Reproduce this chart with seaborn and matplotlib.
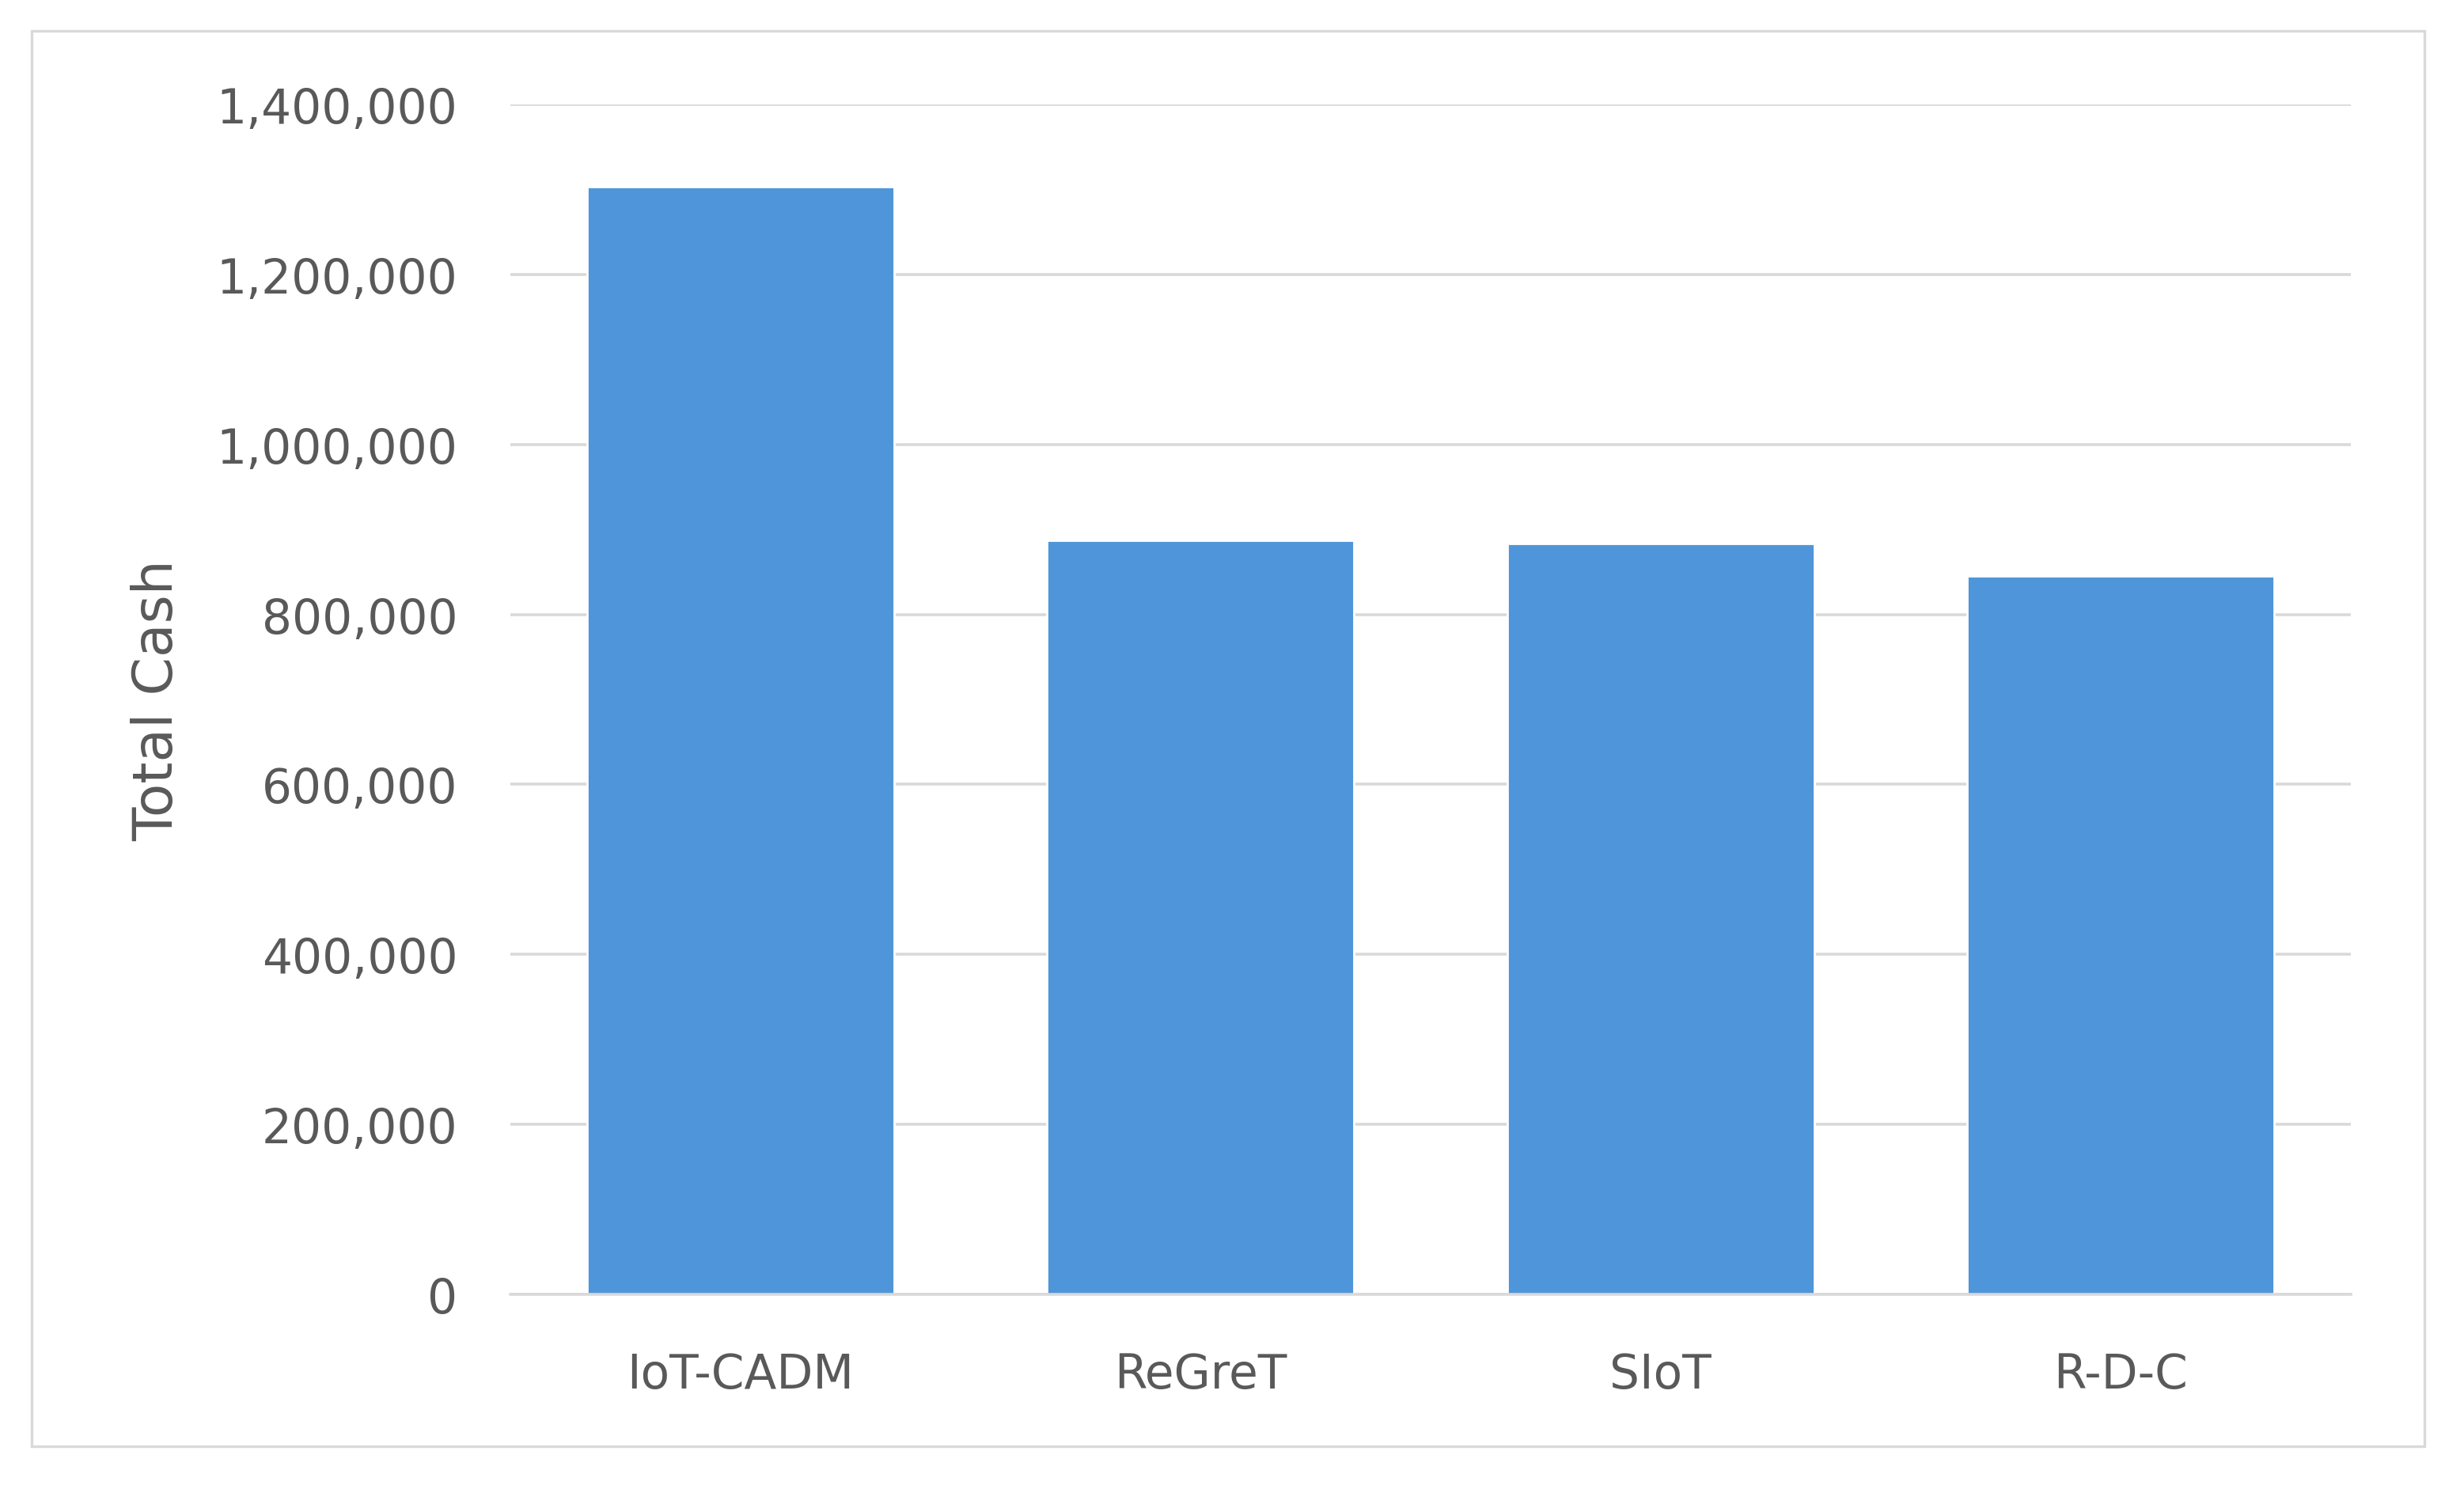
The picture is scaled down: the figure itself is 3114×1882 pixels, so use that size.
import matplotlib
matplotlib.use("Agg")
import matplotlib.pyplot as plt
import matplotlib.patches as mpatches
from matplotlib.ticker import FuncFormatter
import seaborn as sns
import pandas as pd

categories = ["IoT-CADM", "ReGreT", "SIoT", "R-D-C"]
total_cash = [1303000, 887000, 883000, 845000]
y_ticks = [0, 200000, 400000, 600000, 800000, 1000000, 1200000, 1400000]

df = pd.DataFrame({"Method": categories, "Total Cash": total_cash})

sns.set_theme(style="white")
plt.rcParams["font.family"] = ["DejaVu Sans"]

W, H, DPI = 3114, 1883, 200
fig = plt.figure(figsize=(W / DPI, H / DPI), dpi=DPI)
ax = fig.add_axes([645 / W, 1 - 1637 / H, (2971 - 645) / W, (1637 - 133) / H])

sns.barplot(data=df, x="Method", y="Total Cash", color="#4F95D9", width=0.667,
            saturation=1, ax=ax, zorder=3)

ax.set_ylim(0, 1400000)
ax.set_xlim(-0.5, 3.5)
ax.set_yticks(y_ticks)
ax.yaxis.set_major_formatter(FuncFormatter(lambda v, p: f"{int(v):,}"))
ax.grid(axis="y", color="#D9D9D9", linewidth=1.3, zorder=0)
ax.grid(axis="x", visible=False)
for s in ["top", "right", "left"]:
    ax.spines[s].set_visible(False)
ax.spines["bottom"].set_color("#D9D9D9")
ax.spines["bottom"].set_linewidth(1.3)
ax.spines["bottom"].set_zorder(4)

ax.tick_params(axis="y", length=0, pad=24, labelsize=21.5, labelcolor="#595959")
ax.tick_params(axis="x", length=0, pad=26, labelsize=21.5, labelcolor="#595959")
ax.set_xlabel("")
ax.set_ylabel("Total Cash", fontsize=25, color="#595959", labelpad=0)
ax.yaxis.set_label_coords((232 - 645) / (2971 - 645), 0.5)

fig.patches.append(mpatches.Rectangle((40 / W, 1 - 1829 / H), (3064 - 40) / W, (1829 - 40) / H,
                                      transform=fig.transFigure, fill=False,
                                      edgecolor="#D9D9D9", linewidth=1.2))

fig.savefig("out.png", dpi=DPI, facecolor="white")
